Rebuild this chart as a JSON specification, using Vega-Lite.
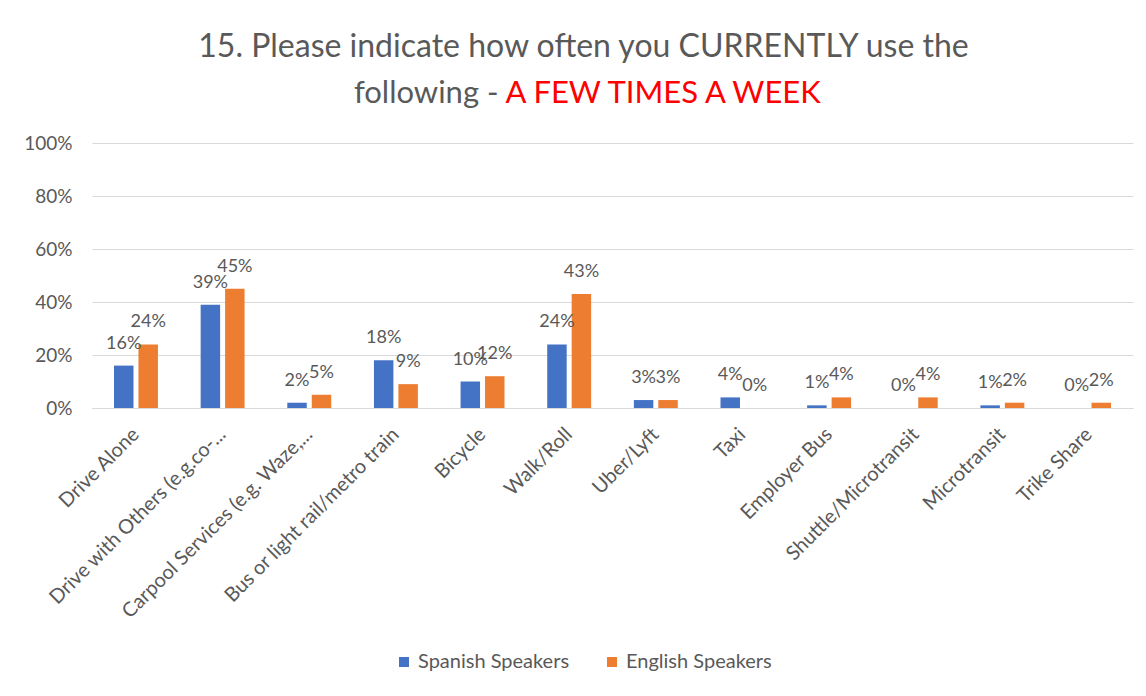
{
  "$schema": "https://vega.github.io/schema/vega-lite/v6.json",
  "width": 1041,
  "height": 265,
  "autosize": {"type": "none"},
  "padding": {"left": 92, "top": 143, "right": 13, "bottom": 288},
  "background": "white",
  "title": {
    "text": "15. Please indicate how often you CURRENTLY use the",
    "font": "Lato",
    "fontSize": 32,
    "fontWeight": "normal",
    "color": "#595959",
    "anchor": "middle",
    "frame": "group",
    "dx": -29,
    "baseline": "alphabetic",
    "offset": -12
  },
  "data": {
    "values": [
      {"cat": "Drive Alone", "group": "Spanish Speakers", "value": 0.16},
      {"cat": "Drive Alone", "group": "English Speakers", "value": 0.24},
      {"cat": "Drive with Others (e.g.co-...", "group": "Spanish Speakers", "value": 0.39},
      {"cat": "Drive with Others (e.g.co-...", "group": "English Speakers", "value": 0.45},
      {"cat": "Carpool Services (e.g. Waze,...", "group": "Spanish Speakers", "value": 0.02},
      {"cat": "Carpool Services (e.g. Waze,...", "group": "English Speakers", "value": 0.05},
      {"cat": "Bus or light rail/metro train", "group": "Spanish Speakers", "value": 0.18},
      {"cat": "Bus or light rail/metro train", "group": "English Speakers", "value": 0.09},
      {"cat": "Bicycle", "group": "Spanish Speakers", "value": 0.10},
      {"cat": "Bicycle", "group": "English Speakers", "value": 0.12},
      {"cat": "Walk/Roll", "group": "Spanish Speakers", "value": 0.24},
      {"cat": "Walk/Roll", "group": "English Speakers", "value": 0.43},
      {"cat": "Uber/Lyft", "group": "Spanish Speakers", "value": 0.03},
      {"cat": "Uber/Lyft", "group": "English Speakers", "value": 0.03},
      {"cat": "Taxi", "group": "Spanish Speakers", "value": 0.04},
      {"cat": "Taxi", "group": "English Speakers", "value": 0.0},
      {"cat": "Employer Bus", "group": "Spanish Speakers", "value": 0.01},
      {"cat": "Employer Bus", "group": "English Speakers", "value": 0.04},
      {"cat": "Shuttle/Microtransit", "group": "Spanish Speakers", "value": 0.0},
      {"cat": "Shuttle/Microtransit", "group": "English Speakers", "value": 0.04},
      {"cat": "Microtransit", "group": "Spanish Speakers", "value": 0.01},
      {"cat": "Microtransit", "group": "English Speakers", "value": 0.02},
      {"cat": "Trike Share", "group": "Spanish Speakers", "value": 0.0},
      {"cat": "Trike Share", "group": "English Speakers", "value": 0.02}
    ]
  },
  "encoding": {
    "x": {
      "field": "cat",
      "type": "nominal",
      "sort": null,
      "scale": {"paddingInner": 0.493, "paddingOuter": 0.254},
      "axis": {
        "labelAngle": -45,
        "labelAlign": "right",
        "labelBaseline": "middle",
        "labelFont": "Lato",
        "labelFontSize": 20,
        "labelColor": "#595959",
        "labelPadding": 23,
        "labelLimit": 0,
        "ticks": false,
        "domainColor": "#d9d9d9",
        "title": "A FEW TIMES A WEEK",
        "titleFont": "Lato",
        "titleFontSize": 31,
        "titleFontWeight": "normal",
        "titleColor": "#FF0000",
        "titleAngle": 0,
        "titleAlign": "left",
        "titleBaseline": "alphabetic",
        "titleX": 413,
        "titleY": -306
      }
    },
    "xOffset": {
      "field": "group",
      "type": "nominal",
      "sort": ["Spanish Speakers", "English Speakers"],
      "scale": {"paddingInner": 0.204, "paddingOuter": 0}
    },
    "y": {
      "field": "value",
      "type": "quantitative",
      "scale": {"domain": [0, 1]},
      "axis": {
        "values": [0, 0.2, 0.4, 0.6, 0.8, 1],
        "format": ".0%",
        "labelFont": "Lato",
        "labelFontSize": 19,
        "labelColor": "#595959",
        "labelPadding": 20,
        "ticks": false,
        "domain": false,
        "gridColor": "#d9d9d9",
        "gridWidth": 1,
        "title": "following -",
        "titleFont": "Lato",
        "titleFontSize": 31,
        "titleFontWeight": "normal",
        "titleColor": "#595959",
        "titleAngle": 0,
        "titleAlign": "right",
        "titleBaseline": "alphabetic",
        "titleX": 406,
        "titleY": -41
      }
    }
  },
  "layer": [
    {
      "mark": {"type": "bar"},
      "encoding": {
        "color": {
          "field": "group",
          "type": "nominal",
          "sort": ["Spanish Speakers", "English Speakers"],
          "scale": {"domain": ["Spanish Speakers", "English Speakers"], "range": ["#4472C4", "#ED7D31"]},
          "legend": {
            "orient": "none",
            "legendX": 302,
            "legendY": 509,
            "direction": "horizontal",
            "title": null,
            "symbolType": "square",
            "symbolSize": 100,
            "symbolStrokeWidth": 0,
            "labelFont": "Lato",
            "labelFontSize": 20,
            "labelColor": "#595959",
            "columnPadding": 32
          }
        }
      }
    },
    {
      "mark": {"type": "text", "baseline": "alphabetic", "dy": -17, "font": "Lato", "fontSize": 18, "color": "#595959"},
      "encoding": {
        "text": {"field": "value", "type": "quantitative", "format": ".0%"}
      }
    }
  ],
  "config": {"view": {"stroke": null}}
}
